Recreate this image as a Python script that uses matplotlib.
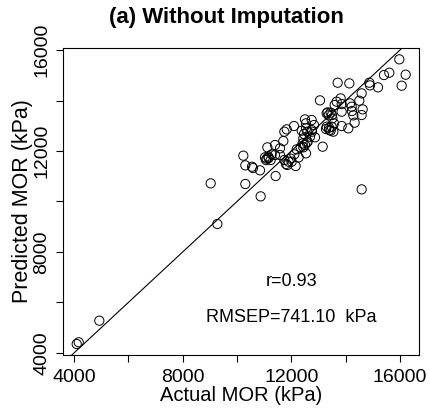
import numpy as np
import matplotlib
matplotlib.use("Agg")
import matplotlib.pyplot as plt
from matplotlib.ticker import MultipleLocator

plt.rcParams["font.family"] = ["Liberation Sans", "DejaVu Sans"]

# --- data (kPa) ---
actual = [4099, 4173, 4932, 9276, 9031, 10233, 10307, 10307, 10552, 10589,
          10847, 10871, 11423, 14589, 11117, 11399, 11031, 11092, 11154, 11239,
          11399, 11583, 11743, 11829, 12098, 11706, 11804, 11902, 11976, 12111,
          12197, 12270, 12160, 12344, 12503, 12749, 12540, 12589, 12442, 12503,
          12442, 12565, 12872, 12540, 12749, 12381, 13154, 13055, 13301, 13374,
          13448, 13276, 13399, 13485, 13546, 13595, 13669, 13816, 13853, 13853,
          13853, 14098, 14160, 14233, 14282, 14331, 14503, 14626, 14589, 14589,
          13706, 14135, 14871, 14896, 15190, 15411, 15608, 15975, 16062, 16209,
          12540, 12467, 12602, 12418, 12687, 13301, 13387, 13448, 13338, 13497,
          13571, 13510, 11068, 11166, 11276, 11583, 11743, 11853, 12013, 12761,
          12835, 14221]
predicted = [4356, 4424, 5279, 9109, 10719, 11815, 11432, 10693, 11379, 11326,
             11234, 10204, 11009, 10481, 12145, 12237, 11749, 11696, 11775, 11643,
             11841, 12105, 12765, 12857, 12989, 12395, 11485, 11577, 11696, 11867,
             12065, 11749, 11405, 12145, 13253, 13227, 12897, 12765, 12501, 12237,
             12145, 12329, 12541, 11907, 12831, 12805, 12171, 14006, 13491, 13412,
             13517, 12871, 12831, 12963, 12765, 13821, 13953, 14085, 13861, 13557,
             12989, 12897, 13887, 13583, 13412, 13121, 13993, 13649, 13425, 14283,
             14705, 14679, 14705, 14600, 14521, 15009, 15101, 15631, 14587, 15022,
             13095, 12673, 12369, 12303, 12567, 12963, 12923, 12805, 13531, 13425,
             13095, 13293, 11643, 11722, 11867, 11841, 11643, 11445, 11577, 12765,
             13029, 13755]

title = "(a) Without Imputation"
r_text = "r=0.93"
rmsep_text = "RMSEP=741.10  kPa"

fig = plt.figure(figsize=(4.31, 4.13), dpi=100)
ax = fig.add_axes([63 / 431, 1 - 355 / 413, (419 - 63) / 431, (355 - 48) / 413])

ax.scatter(actual, predicted, s=44, facecolors="none", edgecolors="black", linewidths=0.7, zorder=3)
ax.axline((0, 0), slope=1, color="black", linewidth=0.8)

ax.set_xlim(3595, 16700)
ax.set_ylim(3920, 16080)

ax.xaxis.set_major_locator(MultipleLocator(4000))
ax.xaxis.set_minor_locator(MultipleLocator(2000))
ax.yaxis.set_major_locator(MultipleLocator(4000))
ax.yaxis.set_minor_locator(MultipleLocator(2000))
ax.tick_params(which="both", direction="out", length=5, width=0.8, labelsize=14)
ax.tick_params(axis="x", which="major", pad=5)
ax.tick_params(axis="y", which="major", pad=4)
for lbl in ax.get_yticklabels():
    lbl.set_rotation(90)
    lbl.set_va("center")

for sp in ax.spines.values():
    sp.set_linewidth(0.8)

ax.set_xlabel("Actual MOR (kPa)", fontsize=14.5, labelpad=0)
ax.set_ylabel("Predicted MOR (kPa)", fontsize=15.5, labelpad=0)

ax.text(12000, 6824, r_text, fontsize=13, ha="center", va="center")
ax.text(12000, 5414, rmsep_text, fontsize=13, ha="center", va="center")

fig.text(226 / 431, 1 - 18 / 413, title, fontsize=16, fontweight="bold", ha="center", va="center")

fig.savefig("out.png", dpi=100)
